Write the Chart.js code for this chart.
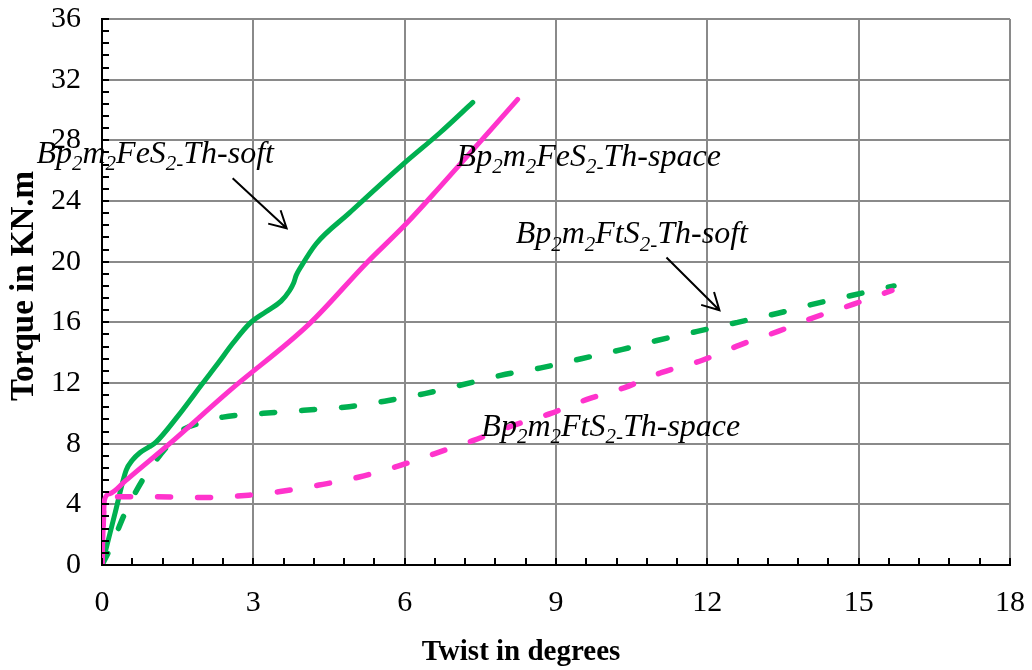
<!DOCTYPE html>
<html><head><meta charset="utf-8">
<script src="https://cdn.jsdelivr.net/npm/chart.js@4.4.1/dist/chart.umd.min.js"></script>
<style>html,body{margin:0;padding:0;background:#fff}#wrap{width:1032px;height:670px}</style>
</head><body><div id="wrap"><canvas id="c" width="1032" height="670"></canvas></div>
<script>
// ---- data ----
const xTickValues = [0, 3, 6, 9, 12, 15, 18];
const yTickValues = [0, 4, 8, 12, 16, 20, 24, 28, 32, 36];

const feSoftX  = [0, 0.25, 0.48, 0.6, 0.75, 0.94, 1.07, 1.5, 2.0, 2.3, 2.59, 2.92, 3.25, 3.55, 3.72, 3.8, 3.85, 3.95, 4.25, 4.9, 5.96, 6.7, 7.35];
const feSoftY  = [0, 3.3, 6.25, 6.9, 7.4, 7.8, 8.1, 9.8, 12.0, 13.3, 14.6, 15.9, 16.7, 17.4, 18.1, 18.6, 19.1, 19.7, 21.2, 23.2, 26.4, 28.5, 30.5];

const feSpaceX = [0, 0.05, 0.15, 0.48, 1.34, 2.53, 4.11, 5.24, 6.03, 6.69, 8.24];
const feSpaceY = [0, 4.3, 4.7, 5.6, 8.0, 11.5, 15.9, 19.9, 22.5, 24.9, 30.7];

const ftSoftX  = [0, 0.15, 0.48, 0.84, 1.07, 1.34, 1.6, 2.0, 2.4, 3.2, 4.0, 4.8, 5.6, 6.4, 7.1, 7.9, 8.7, 9.5, 10.3, 11.0, 11.8, 12.6, 13.4, 14.1, 14.9, 15.7];
const ftSoftY  = [0, 1.0, 3.6, 5.8, 6.9, 8.0, 8.9, 9.4, 9.75, 10.0, 10.2, 10.4, 10.8, 11.3, 11.85, 12.5, 13.0, 13.6, 14.2, 14.8, 15.4, 16.0, 16.6, 17.2, 17.8, 18.4];

const ftSpaceX = [0, 0.05, 0.3, 1.0, 2.0, 2.9, 3.5, 4.3, 5.1, 5.85, 6.6, 7.35, 8.15, 8.9, 9.6, 10.36, 11.1, 11.9, 12.64, 13.4, 14.1, 14.9, 15.66];
const ftSpaceY = [0, 4.4, 4.5, 4.5, 4.45, 4.6, 4.83, 5.27, 5.8, 6.5, 7.35, 8.2, 9.2, 10.0, 10.9, 11.7, 12.7, 13.5, 14.5, 15.4, 16.3, 17.2, 18.1];

// annotation labels: [text, isSubscript]
const labelFeSoft  = [["Bp",0],["2",1],["m",0],["2",1],["FeS",0],["2-",1],["Th-soft",0]];
const labelFeSpace = [["Bp",0],["2",1],["m",0],["2",1],["FeS",0],["2-",1],["Th-space",0]];
const labelFtSoft  = [["Bp",0],["2",1],["m",0],["2",1],["FtS",0],["2-",1],["Th-soft",0]];
const labelFtSpace = [["Bp",0],["2",1],["m",0],["2",1],["FtS",0],["2-",1],["Th-space",0]];

const xTitle = "Twist in degrees";
const yTitle = "Torque in KN.m";

// ---- build ----
const pts = (xs, ys) => xs.map((x, i) => ({x, y: ys[i]}));
const PINK = '#FF33CC', GREEN = '#00B050';
const SERIF = '"Liberation Serif", "Times New Roman", serif';

function drawRich(ctx, parts, x, y, size) {
  let cx = x;
  for (const [t, sub] of parts) {
    ctx.font = 'italic ' + (sub ? Math.round(size*0.65) : size) + 'px ' + SERIF;
    ctx.fillText(t, cx, sub ? y + size*0.22 : y);
    cx += ctx.measureText(t).width;
  }
}
function arrow(ctx, x1, y1, x2, y2) {
  const a = Math.atan2(y2 - y1, x2 - x1), L = 19, w = 0.5;
  ctx.beginPath();
  ctx.moveTo(x1, y1); ctx.lineTo(x2, y2);
  ctx.moveTo(x2 - L*Math.cos(a - w), y2 - L*Math.sin(a - w));
  ctx.lineTo(x2, y2);
  ctx.lineTo(x2 - L*Math.cos(a + w), y2 - L*Math.sin(a + w));
  ctx.stroke();
}

const annot = {
  id: 'annot',
  afterDraw(chart) {
    const {ctx, scales: {x: xs, y: ys}, chartArea: ca} = chart;
    ctx.save();
    // inside tick marks
    ctx.strokeStyle = '#000'; ctx.lineWidth = 2;
    ctx.beginPath();
    for (let i = 0; i <= 45; i++) { const p = Math.round(ys.getPixelForValue(i*0.8)); ctx.moveTo(ca.left, p); ctx.lineTo(ca.left + 7, p); }
    for (let i = 0; i <= 30; i++) { const p = Math.round(xs.getPixelForValue(i*0.6)); ctx.moveTo(p, ca.bottom); ctx.lineTo(p, ca.bottom - 7); }
    ctx.stroke();
    // labels
    ctx.fillStyle = '#000'; ctx.textBaseline = 'alphabetic'; ctx.textAlign = 'left';
    const P = (vx, vy) => [xs.getPixelForValue(vx), ys.getPixelForValue(vy)];
    let p;
    p = P(-1.3, 26.5);  drawRich(ctx, labelFeSoft, p[0], p[1], 32);
    p = P(7.03, 26.3);  drawRich(ctx, labelFeSpace, p[0], p[1], 32);
    p = P(8.2, 21.2);   drawRich(ctx, labelFtSoft, p[0], p[1], 32);
    p = P(7.52, 8.5);   drawRich(ctx, labelFtSpace, p[0], p[1], 32);
    // arrows
    ctx.lineWidth = 2;
    let a = P(2.59, 25.5), b = P(3.66, 22.2); arrow(ctx, a[0], a[1], b[0], b[1]);
    a = P(11.19, 20.27); b = P(12.24, 16.8); arrow(ctx, a[0], a[1], b[0], b[1]);
    // axis titles
    ctx.font = 'bold 29px ' + SERIF; ctx.textAlign = 'center';
    ctx.fillText(xTitle, 521, 660);
    ctx.save(); ctx.translate(33, 286); ctx.rotate(-Math.PI/2);
    ctx.font = 'bold 33px ' + SERIF; ctx.fillText(yTitle, 0, 0); ctx.restore();
    ctx.restore();
  }
};

const line = (label, xs, ys, color, dashed) => ({
  label, data: pts(xs, ys), showLine: true, borderColor: color, backgroundColor: color,
  borderWidth: dashed ? 5.5 : 5, pointRadius: 0,
  cubicInterpolationMode: 'monotone',
  borderDash: dashed ? [13, 27] : [], borderCapStyle: 'round', borderJoinStyle: 'round'
});

new Chart(document.getElementById('c'), {
  type: 'scatter',
  data: { datasets: [
    line('Bp2m2FtS2-Th-space', ftSpaceX, ftSpaceY, PINK, true),
    line('Bp2m2FeS2-Th-space', feSpaceX, feSpaceY, PINK, false),
    line('Bp2m2FtS2-Th-soft', ftSoftX, ftSoftY, GREEN, true),
    line('Bp2m2FeS2-Th-soft', feSoftX, feSoftY, GREEN, false)
  ]},
  options: {
    responsive: false, animation: false, devicePixelRatio: 1,
    layout: { padding: { top: 19, right: 22, left: 0, bottom: 0 } },
    plugins: { legend: { display: false }, tooltip: { enabled: false } },
    scales: {
      x: { type: 'linear', min: 0, max: 18,
        afterFit: s => { s.height = 105; s.paddingLeft = 0; s.paddingRight = 0; },
        afterBuildTicks: s => { s.ticks = xTickValues.map(v => ({value: v})); },
        ticks: { color: '#000', padding: 20, font: { family: SERIF, size: 30 } },
        grid: { color: '#8a8a8a', lineWidth: 2, drawTicks: false },
        border: { color: '#000', width: 2 } },
      y: { type: 'linear', min: 0, max: 36,
        afterFit: s => { s.width = 102; s.paddingTop = 0; s.paddingBottom = 0; },
        afterBuildTicks: s => { s.ticks = yTickValues.map(v => ({value: v})); },
        ticks: { color: '#000', padding: 21, font: { family: SERIF, size: 30 } },
        grid: { color: '#8a8a8a', lineWidth: 2, drawTicks: false },
        border: { color: '#000', width: 2 } }
    }
  },
  plugins: [annot]
});
</script></body></html>
